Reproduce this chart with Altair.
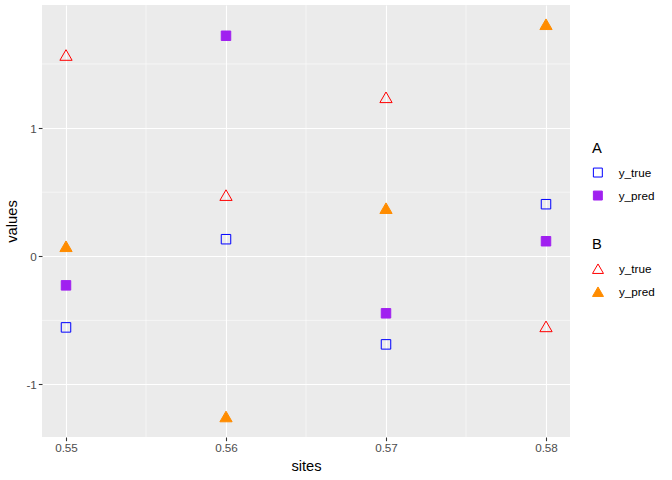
import altair as alt
import pandas as pd

sites = [0.55, 0.56, 0.57, 0.58]
a_true = [-0.555, 0.133, -0.6875, 0.406]
a_pred = [-0.227, 1.72, -0.445, 0.117]
b_true = [1.57, 0.477, 1.24, -0.547]
b_pred = [0.078, -1.25, 0.375, 1.81]
series_names = ["y_true", "y_pred"]
x_major = [0.55, 0.56, 0.57, 0.58]
x_minor = [0.555, 0.565, 0.575]
y_major = [-1, 0, 1]
y_minor = [-0.5, 0.5, 1.5]

dfA = pd.DataFrame({
    "sites": sites * 2,
    "values": a_true + a_pred,
    "series": ["y_true"] * 4 + ["y_pred"] * 4,
})
dfB = pd.DataFrame({
    "sites": sites * 2,
    "values": b_true + b_pred,
    "series": ["y_true"] * 4 + ["y_pred"] * 4,
})

xscale = alt.Scale(domain=[0.5485, 0.5815], nice=False, zero=False)
yscale = alt.Scale(domain=[-1.41, 1.96], nice=False, zero=False)
xaxis = alt.Axis(values=x_major, format=".2f", title="sites")
yaxis = alt.Axis(values=y_major, labelExpr="'' + datum.value", title="values")

minor_x = alt.Chart(pd.DataFrame({"v": x_minor})).mark_rule(
    color="white", strokeWidth=0.55
).encode(x=alt.X("v:Q", scale=xscale, axis=xaxis, title="sites"))
minor_y = alt.Chart(pd.DataFrame({"v": y_minor})).mark_rule(
    color="white", strokeWidth=0.55
).encode(y=alt.Y("v:Q", scale=yscale, axis=yaxis, title="values"))

def leg(title, sym, ly, ssize):
    return alt.Legend(
        title=title, symbolType=sym, orient="none", legendX=550, legendY=ly,
        symbolSize=ssize, symbolStrokeWidth=1, labelFontSize=11.7, titleFontSize=14.7,
        labelColor="black", titleColor="black", titleFontWeight="normal",
        rowPadding=9, titlePadding=11, labelOffset=15,
        labelFont="Liberation Sans", titleFont="Liberation Sans",
    )

ptsA = alt.Chart(dfA).mark_point(shape="square", size=90, filled=True, opacity=1, strokeWidth=1).encode(
    x=alt.X("sites:Q", scale=xscale, axis=xaxis, title="sites"),
    y=alt.Y("values:Q", scale=yscale, axis=yaxis, title="values"),
    stroke=alt.Stroke("series:N", scale=alt.Scale(domain=series_names, range=["#0000FF", "#A020F0"]),
                      legend=leg("A", "square", 136, 80)),
    fill=alt.Fill("series:N", scale=alt.Scale(domain=series_names, range=["transparent", "#A020F0"]),
                  legend=leg("A", "square", 136, 80)),
)
ptsB = alt.Chart(dfB).mark_point(shape="triangle-up", size=150, filled=True, opacity=1, strokeWidth=1).encode(
    x=alt.X("sites:Q", scale=xscale, axis=xaxis, title="sites"),
    y=alt.Y("values:Q", scale=yscale, axis=yaxis, title="values"),
    stroke=alt.Stroke("series:N", scale=alt.Scale(domain=series_names, range=["#FF0000", "#FF8C00"]),
                      legend=leg("B", "triangle-up", 232, 120)),
    fill=alt.Fill("series:N", scale=alt.Scale(domain=series_names, range=["transparent", "#FF8C00"]),
                  legend=leg("B", "triangle-up", 232, 120)),
)

chart = alt.layer(minor_x, minor_y, ptsA, ptsB).resolve_scale(
    fill="independent", stroke="independent"
).properties(
    width=528, height=432,
    autosize=alt.AutoSizeParams(type="none"),
    padding={"left": 42, "top": 5, "right": 102, "bottom": 43},
).configure_view(fill="#EBEBEB", stroke=None).configure_axis(
    grid=True, gridColor="white", gridWidth=1.1, domain=False,
    tickColor="#333333", tickSize=3.7, tickWidth=1.1,
    labelColor="#4D4D4D", labelFontSize=11.7, labelFont="Liberation Sans",
    titleFont="Liberation Sans", titleFontSize=14.7, titleColor="black",
    titleFontWeight="normal", labelPadding=2,
).configure_axisX(titlePadding=4).configure_axisY(titlePadding=6)

chart.save("out.html", embed_options={"renderer": "svg", "actions": False})
